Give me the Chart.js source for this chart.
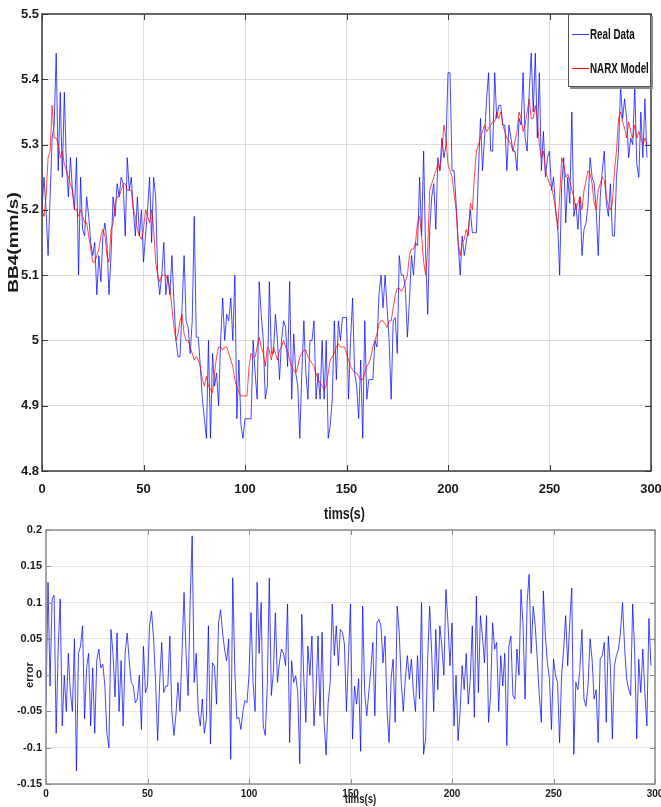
<!DOCTYPE html>
<html>
<head>
<meta charset="utf-8">
<script src="https://cdn.jsdelivr.net/npm/chart.js@4.4.1/dist/chart.umd.min.js"></script>
<style>
  html, body { margin: 0; padding: 0; background: #fff; }
  #wrap { position: relative; width: 661px; height: 807px; }
  #speedChart { position: absolute; left: 0; top: 0; }
  #errorChart { position: absolute; left: 0; top: 500px; }
</style>
</head>
<body>
<div id="wrap">
  <canvas id="speedChart" width="661" height="530"></canvas>
  <canvas id="errorChart" width="661" height="307"></canvas>
</div>
<script>
// BB4 velocity (mm/s), one sample per second
const realData = [
  5.2, 5.25, 5.2, 5.13, 5.22, 5.31, 5.33, 5.44, 5.26, 5.38,
  5.25, 5.38, 5.27, 5.22, 5.28, 5.23, 5.2, 5.28, 5.1, 5.25,
  5.17, 5.16, 5.22, 5.19, 5.15, 5.13, 5.15, 5.07, 5.13, 5.09,
  5.16, 5.18, 5.15, 5.07, 5.13, 5.22, 5.19, 5.24, 5.22, 5.25,
  5.24, 5.16, 5.28, 5.23, 5.25, 5.2, 5.16, 5.22, 5.16, 5.2,
  5.12, 5.16, 5.2, 5.25, 5.15, 5.25, 5.22, 5.1, 5.07, 5.1,
  5.15, 5.07, 5.1, 5.07, 5.13, 5.06, 5.0, 4.975, 4.975, 5.05,
  5.13, 5.03, 5.02, 4.98, 5.03, 5.19, 5.005, 5.005, 4.96, 4.91,
  4.88, 4.85, 5.0, 4.85, 4.98, 4.93, 4.95, 4.9, 5.0, 5.065,
  5.0, 5.04, 5.03, 5.065, 5.0, 5.1, 4.88, 4.97, 4.87, 4.85,
  4.88, 4.88, 4.88, 4.88, 5.0, 4.95, 4.91, 5.09, 5.04, 5.0,
  4.91, 4.93, 5.09, 4.98, 4.98, 5.04, 5.0, 4.94, 5.0, 5.03,
  5.02, 4.96, 5.09, 4.91, 5.01, 4.95, 4.93, 4.85, 4.95, 5.03,
  4.95, 4.91, 5.0, 5.0, 5.03, 4.91, 4.95, 4.91, 5.0, 4.91,
  5.0, 4.85, 4.87, 4.91, 5.03, 4.94, 5.03, 5.0, 5.035, 5.035,
  5.035, 4.91, 5.0, 5.065, 4.95, 4.93, 4.88, 4.97, 4.85, 5.03,
  4.91, 4.94, 4.94, 4.94, 5.0, 4.99, 5.07, 5.1, 5.05, 5.1,
  5.05, 5.0, 4.91, 5.03, 5.035, 4.98, 5.13, 5.1, 5.1, 5.08,
  5.005, 5.06, 5.13, 5.1, 5.15, 5.145, 5.25, 5.16, 5.29, 5.13,
  5.04, 5.17, 5.22, 5.24, 5.17, 5.28, 5.26, 5.31, 5.28, 5.3,
  5.41, 5.41, 5.26, 5.26, 5.21, 5.15, 5.1, 5.16, 5.13, 5.15,
  5.17, 5.2, 5.165, 5.165, 5.165, 5.26, 5.34, 5.26, 5.31, 5.37,
  5.41, 5.29, 5.29, 5.41, 5.34, 5.36, 5.36, 5.33, 5.33, 5.26,
  5.33, 5.31, 5.29, 5.29, 5.26, 5.34, 5.33, 5.41, 5.31, 5.29,
  5.38, 5.44, 5.35, 5.44, 5.31, 5.41, 5.26, 5.32, 5.25, 5.28,
  5.29, 5.23, 5.25, 5.2, 5.18, 5.1, 5.24, 5.28, 5.18, 5.25,
  5.21, 5.35, 5.19, 5.21, 5.17, 5.22, 5.13, 5.17, 5.18, 5.21,
  5.28, 5.25, 5.24, 5.2, 5.13, 5.22, 5.26, 5.29, 5.21, 5.19,
  5.24, 5.16, 5.16, 5.25, 5.29, 5.39, 5.34, 5.37, 5.34, 5.28,
  5.31, 5.3, 5.39, 5.27, 5.25, 5.35, 5.28, 5.37, 5.28
];

// NARX one-step prediction of the same signal
const narxModel = [
  5.2, 5.19, 5.22, 5.28, 5.29, 5.36, 5.31, 5.31, 5.3, 5.28,
  5.29, 5.27, 5.26, 5.25, 5.24, 5.23, 5.2, 5.2, 5.19, 5.2,
  5.19, 5.18, 5.18, 5.16, 5.14, 5.12, 5.12, 5.13, 5.14, 5.16,
  5.17, 5.16, 5.13, 5.12, 5.17, 5.18, 5.21, 5.22, 5.22, 5.23,
  5.24, 5.24, 5.23, 5.23, 5.23, 5.2, 5.19, 5.17, 5.16, 5.155,
  5.17, 5.2, 5.19, 5.18, 5.2, 5.17, 5.12, 5.1, 5.09, 5.1,
  5.1, 5.1, 5.09, 5.08, 5.05, 5.02, 5.0, 5.01, 5.03, 5.04,
  5.01, 5.0, 5.0, 4.99, 4.98, 4.97, 4.975, 4.97, 4.96, 4.94,
  4.93, 4.945, 4.93, 4.925, 4.92, 4.95, 4.975, 4.99, 4.99, 4.985,
  4.99, 4.99, 4.98, 4.97, 4.96, 4.94, 4.93, 4.92, 4.915, 4.915,
  4.915, 4.915, 4.96, 4.98, 4.975, 4.975, 4.99, 5.005, 4.99, 4.98,
  4.96, 4.99, 4.985, 4.97, 4.99, 4.98, 4.97, 4.985, 4.99, 5.0,
  4.99, 4.985, 4.97, 4.96, 4.955, 4.95, 4.96, 4.975, 4.98, 4.985,
  4.985, 4.975, 4.97, 4.965, 4.96, 4.95, 4.94, 4.935, 4.93, 4.925,
  4.93, 4.95, 4.97, 4.975, 4.98, 4.99, 4.995, 4.99, 4.99, 4.99,
  4.98, 4.97, 4.96, 4.955, 4.95, 4.95, 4.945, 4.94, 4.94, 4.95,
  4.96, 4.965, 4.975, 4.99, 5.0, 5.01, 5.025, 5.03, 5.03, 5.025,
  5.02, 5.03, 5.03, 5.05, 5.07, 5.08, 5.08, 5.075, 5.08, 5.09,
  5.1, 5.13, 5.14, 5.14, 5.15, 5.18, 5.19, 5.16, 5.12, 5.1,
  5.14, 5.23, 5.24, 5.25, 5.26, 5.27, 5.26, 5.29, 5.33, 5.31,
  5.27, 5.26, 5.25, 5.225, 5.2, 5.15, 5.13, 5.15, 5.155, 5.17,
  5.16, 5.21, 5.2, 5.25, 5.29, 5.3, 5.31, 5.32, 5.33, 5.32,
  5.325, 5.33, 5.335, 5.335, 5.35, 5.34, 5.35, 5.33, 5.32, 5.31,
  5.305, 5.3, 5.29, 5.305, 5.32, 5.35, 5.34, 5.32, 5.33, 5.35,
  5.37, 5.34, 5.34, 5.36, 5.34, 5.3, 5.28, 5.29, 5.26, 5.25,
  5.24, 5.235, 5.22, 5.2, 5.17, 5.22, 5.28, 5.27, 5.25, 5.255,
  5.245, 5.23, 5.22, 5.2, 5.21, 5.22, 5.2, 5.23, 5.245, 5.26,
  5.255, 5.24, 5.21, 5.2, 5.23, 5.24, 5.25, 5.245, 5.22, 5.205,
  5.2, 5.21, 5.26, 5.29, 5.34, 5.35, 5.335, 5.325, 5.31, 5.335,
  5.32, 5.31, 5.33, 5.31, 5.32, 5.31, 5.3, 5.31, 5.3
];

// prediction error
const errorData = [
  -0.04, 0.128, -0.015, 0.105, 0.11, -0.08, 0.036, 0.105, -0.07, 0.0,
  -0.05, 0.03, -0.024, -0.05, 0.05, -0.132, 0.03, 0.04, 0.068, -0.06,
  0.01, 0.03, -0.07, 0.01, -0.08, 0.02, 0.036, 0.01, 0.015, -0.015,
  -0.08, -0.1, 0.063, 0.03, -0.03, 0.058, -0.05, 0.02, -0.07, 0.03,
  0.058, 0.02, -0.01, -0.015, -0.038, -0.033, 0.0, -0.075, 0.04, -0.024,
  -0.015, 0.068, 0.088, 0.05, -0.01, -0.09, -0.01, 0.045, -0.024, -0.015,
  -0.015, 0.054, -0.05, -0.083, -0.055, -0.01, -0.05, 0.03, 0.114, 0.03,
  -0.028, 0.1, 0.192, -0.01, 0.03, -0.05, -0.07, -0.033, -0.08, -0.06,
  0.068, -0.095, 0.017, 0.012, -0.04, 0.072, 0.09, 0.058, 0.035, 0.02,
  0.05, -0.116, 0.134, 0.008, -0.06, -0.058, -0.075, -0.05, -0.035, -0.038,
  0.0, 0.086, -0.01, -0.05, 0.128, 0.03, 0.1, -0.07, -0.083, -0.015,
  0.134, -0.028, 0.004, 0.086, -0.01, 0.017, 0.036, 0.03, 0.013, 0.098,
  -0.093, 0.02, -0.01, -0.001, -0.024, -0.122, 0.084, -0.005, -0.065, 0.04,
  0.0, 0.054, -0.07, -0.025, 0.054, -0.056, 0.059, -0.065, -0.11, -0.038,
  -0.01, 0.098, 0.027, 0.068, 0.013, 0.063, 0.059, 0.043, -0.05, 0.026,
  0.098, -0.088, -0.015, -0.04, -0.005, -0.105, 0.095, -0.025, -0.056, -0.024,
  0.008, 0.045, -0.056, 0.072, 0.077, 0.068, 0.017, 0.054, -0.047, -0.093,
  -0.005, 0.022, -0.065, 0.095, 0.059, -0.01, -0.05, -0.006, 0.027, -0.006,
  0.022, -0.024, -0.05, 0.027, -0.033, 0.1, -0.109, -0.088, 0.022, 0.095,
  0.03, -0.05, 0.063, -0.02, 0.068, 0.04, 0.0, 0.118, 0.072, 0.013,
  0.072, -0.07, 0.0, -0.09, -0.05, 0.013, -0.02, 0.03, -0.04, -0.005,
  0.068, -0.058, 0.109, -0.024, 0.082, 0.054, 0.017, 0.082, -0.065, -0.028,
  0.072, 0.036, 0.045, -0.05, 0.027, -0.015, 0.03, -0.097, 0.04, 0.054,
  -0.028, -0.033, 0.036, 0.0, 0.118, 0.068, -0.033, 0.1, 0.139, 0.03,
  0.095, 0.068, 0.022, -0.028, -0.065, 0.116, 0.054, 0.017, -0.005, -0.075,
  0.022, 0.0, -0.01, -0.093, 0.0, 0.036, 0.082, 0.013, 0.072, 0.12,
  -0.109, -0.01, -0.02, 0.008, 0.063, -0.033, -0.043, -0.015, 0.05, 0.022,
  -0.033, -0.02, -0.093, 0.022, 0.027, 0.045, -0.065, 0.054, 0.013, -0.088,
  0.013, 0.027, 0.036, 0.059, 0.1, 0.04, -0.005, -0.019, -0.028, 0.098,
  0.031, -0.088, 0.022, -0.024, 0.036, -0.024, -0.07, 0.078, 0.013
];

const timeTicks = [0, 50, 100, 150, 200, 250, 300];
const speedTicks = [4.8, 4.9, 5.0, 5.1, 5.2, 5.3, 5.4, 5.5];
const errorTicks = [-0.15, -0.1, -0.05, 0, 0.05, 0.1, 0.15, 0.2];

const time = realData.map((_, i) => i);
const pts = vals => vals.map((v, i) => ({ x: time[i], y: v }));
const fmt = v => String(Number(v.toFixed(2)));

const sans = "'Liberation Sans', Arial, sans-serif";

// fixed axis size; drop the extra room Chart.js reserves for edge labels
const fixHeight = h => s => { s.height = h; s.paddingLeft = 0; s.paddingRight = 0; };
const fixWidth = w => s => { s.width = w; s.paddingTop = 0; s.paddingBottom = 0; };

// frame around the plot area with inward tick marks on all four sides
const axesBox = {
  id: 'axesBox',
  afterDatasetsDraw(chart, args, opts) {
    const { ctx, chartArea: a, scales: { x, y } } = chart;
    ctx.save();
    ctx.strokeStyle = opts.color;
    ctx.lineWidth = opts.width;
    ctx.beginPath();
    x.ticks.forEach(t => {
      const px = Math.round(x.getPixelForValue(t.value)) + 0.5;
      ctx.moveTo(px, a.bottom); ctx.lineTo(px, a.bottom - opts.tick);
      ctx.moveTo(px, a.top); ctx.lineTo(px, a.top + opts.tick);
    });
    y.ticks.forEach(t => {
      const py = Math.round(y.getPixelForValue(t.value)) + 0.5;
      ctx.moveTo(a.left, py); ctx.lineTo(a.left + opts.tick, py);
      ctx.moveTo(a.right, py); ctx.lineTo(a.right - opts.tick, py);
    });
    ctx.stroke();
    ctx.lineWidth = opts.width + 0.5;
    ctx.strokeRect(a.left, a.top, a.right - a.left, a.bottom - a.top);
    ctx.restore();
  }
};

// text squeezed horizontally, the way the exported figure renders it
function squeezedText(ctx, text, x, y, sx) {
  ctx.save();
  ctx.translate(x, y);
  ctx.scale(sx, 1);
  ctx.fillText(text, 0, 0);
  ctx.restore();
}

// legend box in the upper right corner of the plot
const cornerLegend = {
  id: 'cornerLegend',
  afterDraw(chart) {
    const { ctx, chartArea: a } = chart;
    const w = 83, h = 73, bx = a.right - w, by = a.top;
    ctx.save();
    ctx.fillStyle = '#8a8a8a';
    ctx.fillRect(bx + 2, by + 2, w, h);
    ctx.fillStyle = '#fff';
    ctx.fillRect(bx, by, w, h);
    ctx.strokeStyle = '#555';
    ctx.lineWidth = 1;
    ctx.strokeRect(bx + 0.5, by + 0.5, w - 1, h - 1);
    ctx.font = 'bold 14px ' + sans;
    ctx.textBaseline = 'middle';
    ctx.fillStyle = '#111';
    chart.data.datasets.slice().reverse().forEach((ds, i) => {
      const ry = by + 20 + i * 34;
      ctx.strokeStyle = ds.legendColor;
      ctx.beginPath();
      ctx.moveTo(bx + 4, ry + 0.5);
      ctx.lineTo(bx + 21, ry + 0.5);
      ctx.stroke();
      squeezedText(ctx, ds.label, bx + 22, ry + 1, 0.7);
    });
    ctx.restore();
  }
};

// axis titles drawn by hand so they can be stretched / placed freely
const axisTitles = {
  id: 'axisTitles',
  afterDraw(chart, args, opts) {
    const { ctx, chartArea: a, scales: { y } } = chart;
    ctx.save();
    ctx.fillStyle = '#1a1a1a';
    ctx.textAlign = 'center';
    ctx.textBaseline = 'middle';
    if (opts.y) {
      const cy = opts.y.atZero ? y.getPixelForValue(0) : (a.top + a.bottom) / 2;
      ctx.save();
      ctx.translate(opts.y.x, cy);
      ctx.rotate(-Math.PI / 2);
      ctx.scale(opts.y.stretch || 1, 1);
      ctx.font = opts.y.font;
      ctx.fillText(opts.y.text, 0, 0);
      ctx.restore();
    }
    if (opts.x) {
      ctx.font = opts.x.font;
      squeezedText(ctx, opts.x.text, (a.left + a.right) / 2 + (opts.x.shift || 0), opts.x.y, opts.x.squeeze || 1);
    }
    ctx.restore();
  }
};

new Chart(document.getElementById('speedChart'), {
  type: 'line',
  data: {
    datasets: [
      {
        label: 'NARX Model',
        data: pts(narxModel),
        borderColor: 'rgba(255, 0, 0, 0.72)',
        legendColor: '#ff0000',
        borderWidth: 1,
        pointRadius: 0,
        order: 0
      },
      {
        label: 'Real Data',
        data: pts(realData),
        borderColor: 'rgba(0, 0, 255, 0.72)',
        legendColor: '#3a3aff',
        borderWidth: 1,
        pointRadius: 0,
        order: 1
      }
    ]
  },
  options: {
    responsive: false,
    animation: false,
    layout: { padding: { top: 14, right: 10, left: 0, bottom: 0 } },
    plugins: {
      legend: { display: false },
      tooltip: { enabled: false },
      axesBox: { color: '#3a3a3a', width: 1, tick: 6 },
      axisTitles: {
        y: { text: 'BB4(mm/s)', x: 14, font: 'bold 14px ' + sans, stretch: 1.36 },
        x: { text: 'tims(s)', y: 515, font: 'bold 16px ' + sans, squeeze: 0.78, shift: -2 }
      }
    },
    scales: {
      x: {
        type: 'linear',
        min: 0,
        max: 300,
        afterFit: fixHeight(59),
        afterBuildTicks: s => { s.ticks = timeTicks.map(v => ({ value: v })); },
        ticks: {
          padding: 11,
          color: '#1a1a1a',
          maxRotation: 0,
          font: { family: sans, size: 13, weight: 'bold' }
        },
        grid: { color: '#dcdcdc', drawTicks: false },
        border: { display: false }
      },
      y: {
        min: 4.8,
        max: 5.5,
        afterFit: fixWidth(42),
        afterBuildTicks: s => { s.ticks = speedTicks.map(v => ({ value: v })); },
        ticks: {
          padding: 3,
          color: '#1a1a1a',
          callback: fmt,
          font: { family: sans, size: 13, weight: 'bold' }
        },
        grid: { color: '#dcdcdc', drawTicks: false },
        border: { display: false }
      }
    }
  },
  plugins: [axesBox, axisTitles, cornerLegend]
});

new Chart(document.getElementById('errorChart'), {
  type: 'line',
  data: {
    datasets: [{
      label: 'error',
      data: pts(errorData),
      borderColor: 'rgba(0, 0, 255, 0.72)',
      borderWidth: 1,
      pointRadius: 0
    }]
  },
  options: {
    responsive: false,
    animation: false,
    layout: { padding: { top: 30, right: 6, left: 0, bottom: 0 } },
    plugins: {
      legend: { display: false },
      tooltip: { enabled: false },
      axesBox: { color: '#8c8c8c', width: 1, tick: 5 },
      axisTitles: {
        y: { text: 'error', x: 30, font: 'bold 11px ' + sans, atZero: true },
        x: { text: 'tims(s)', y: 299, font: 'bold 13px ' + sans, squeeze: 0.74, shift: 10 }
      }
    },
    scales: {
      x: {
        type: 'linear',
        min: 0,
        max: 300,
        afterFit: fixHeight(23),
        afterBuildTicks: s => { s.ticks = timeTicks.map(v => ({ value: v })); },
        ticks: {
          padding: 4,
          color: '#1a1a1a',
          maxRotation: 0,
          font: { family: sans, size: 10, weight: 'bold' }
        },
        grid: { color: '#e4e4e4', drawTicks: false },
        border: { display: false }
      },
      y: {
        min: -0.15,
        max: 0.2,
        afterFit: fixWidth(46),
        afterBuildTicks: s => { s.ticks = errorTicks.map(v => ({ value: v })); },
        ticks: {
          padding: 4,
          color: '#1a1a1a',
          callback: fmt,
          font: { family: sans, size: 11, weight: 'bold' }
        },
        grid: { color: '#e4e4e4', drawTicks: false },
        border: { display: false }
      }
    }
  },
  plugins: [axesBox, axisTitles]
});
</script>
</body>
</html>
